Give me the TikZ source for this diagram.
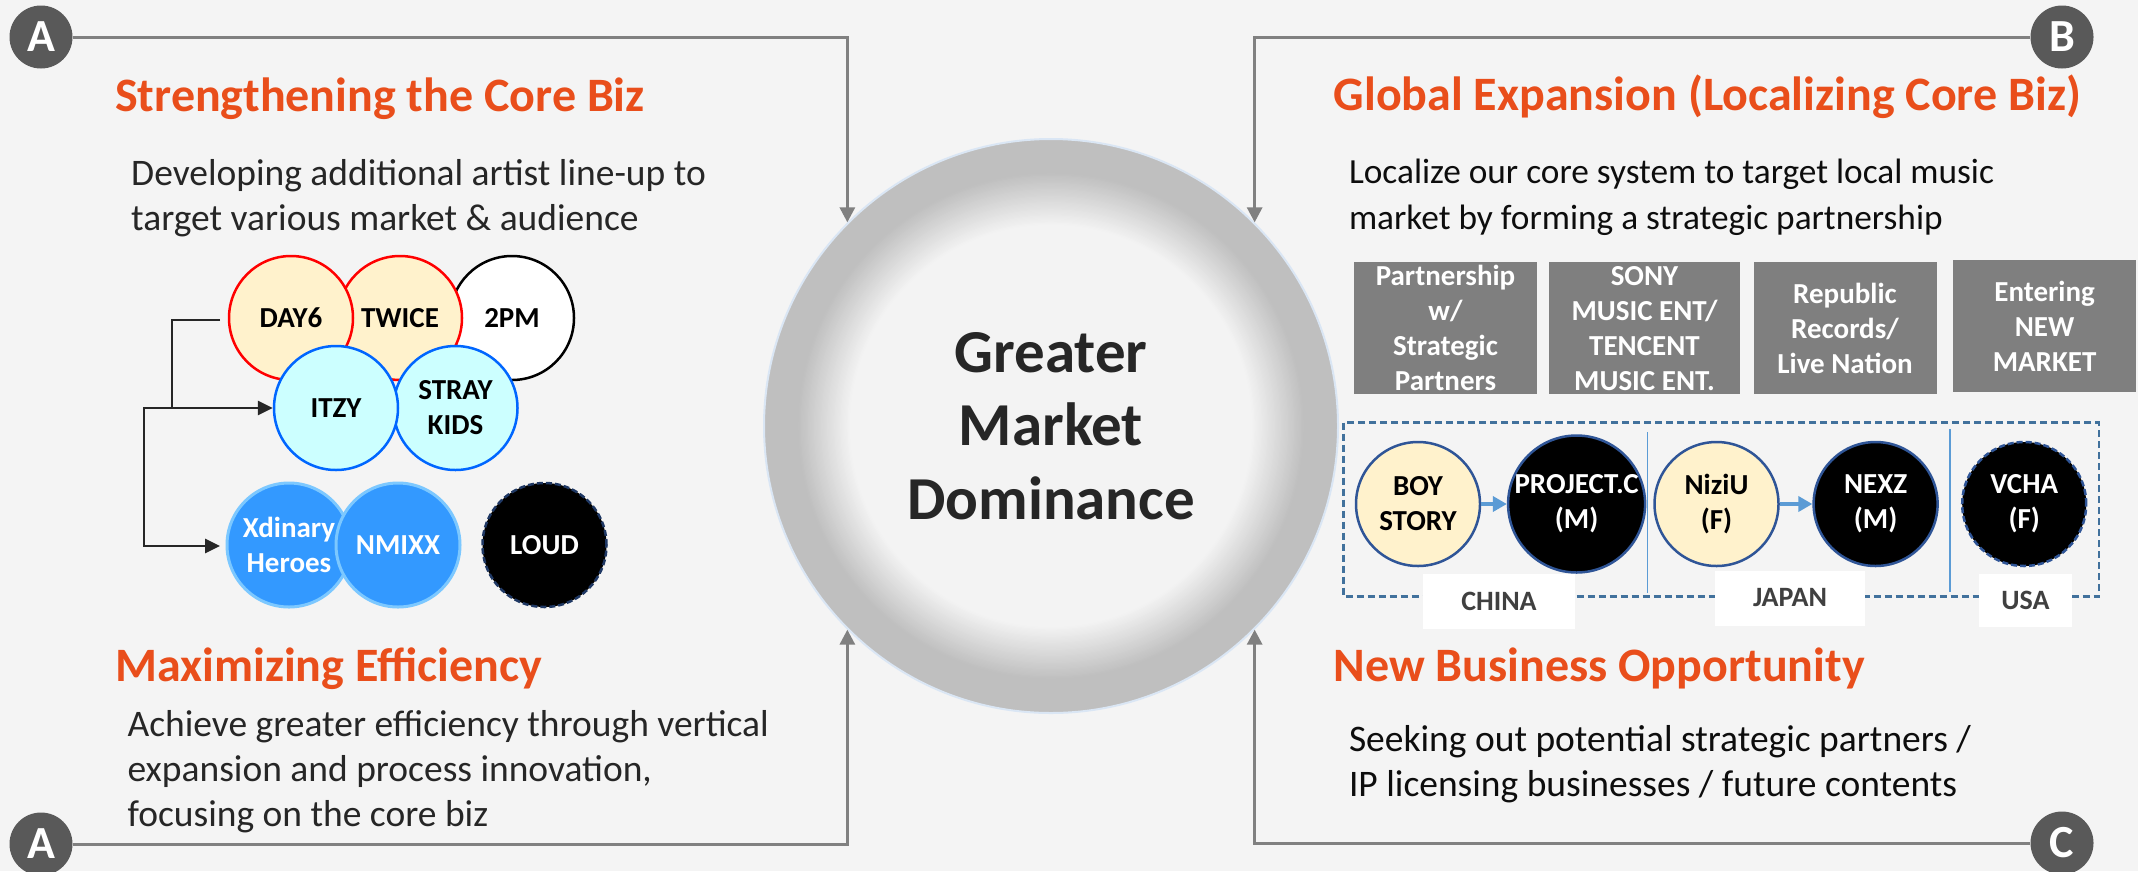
\documentclass[tikz,border=0pt]{standalone}
\usepackage{fontspec}
\setmainfont{Carlito}
\usetikzlibrary{arrows.meta,shapes.geometric}

\definecolor{cBg}{HTML}{F4F4F4}
\definecolor{cOrange}{HTML}{E94E1B}
\definecolor{cBody}{HTML}{262626}
\definecolor{cBodyR}{HTML}{0D0D0D}
\definecolor{cBadge}{HTML}{595959}
\definecolor{cFeed}{HTML}{808080}
\definecolor{cIn}{HTML}{F3F3F3}
\definecolor{cRing}{HTML}{BFBFBF}
\definecolor{cCoreBorder}{HTML}{DAE6F4}
\definecolor{cCream}{HTML}{FFF2CC}
\definecolor{cCyan}{HTML}{CCFFFF}
\definecolor{cBlueBorder}{HTML}{0066FF}
\definecolor{cMid}{HTML}{3399FF}
\definecolor{cMidBorder}{HTML}{7CC8FF}
\definecolor{cNavy}{HTML}{1F3864}
\definecolor{cDeep}{HTML}{2F5597}
\definecolor{cSky}{HTML}{5B9BD5}
\definecolor{cDash}{HTML}{41719C}
\definecolor{cBox}{HTML}{7F7F7F}
\definecolor{cLabel}{HTML}{404040}
\definecolor{cTree}{HTML}{262626}

\newcommand{\fsz}[2]{\fontsize{#1}{#2}\selectfont}

\begin{document}
\begin{tikzpicture}[x=1pt,y=-1pt,
  badge/.style={circle, fill=cBadge, minimum size=63pt, inner sep=0pt, text=white, font=\fsz{46}{50}\bfseries},
  feed/.style={draw=cFeed, line width=3pt, -{Triangle[length=15pt,width=15pt]}},
  ttl/.style={anchor=base west, inner sep=0pt, text=cOrange, font=\fsz{48}{56}\bfseries},
  bodyL/.style={anchor=base west, inner sep=0pt, text=cBody, font=\fsz{37.5}{45}},
  bodyR/.style={anchor=base west, inner sep=0pt, text=cBodyR, font=\fsz{37.5}{45}},
  bodyRs/.style={anchor=base west, inner sep=0pt, text=cBodyR, font=\fsz{35.3}{45}},
  artist/.style={circle, minimum size=124pt, inner sep=0pt, align=center, font=\fsz{29}{35}\bfseries, line width=2.5pt},
  creamR/.style={artist, fill=cCream, draw=red},
  cyanB/.style={artist, fill=cCyan, draw=cBlueBorder},
  midB/.style={artist, fill=cMid, draw=cMidBorder, line width=3pt, text=white},
  darkD/.style={artist, fill=black, draw=cNavy, dashed, dash pattern=on 6pt off 3pt, text=white},
  loc/.style={artist, draw=cDeep},
  treeline/.style={draw=cTree, line width=2.7pt},
  graybox/.style={rectangle, fill=cBox, minimum height=132pt, inner sep=0pt, align=center, text=white, font=\fsz{29}{35}\bfseries},
  lab/.style={rectangle, fill=white, inner sep=0pt, text=cLabel, font=\fsz{28}{34}\bfseries},
  skyarrow/.style={draw=cSky, line width=4pt, -{Triangle[length=14pt,width=15pt]}}
]
\useasboundingbox (0,0) rectangle (2138,871);
\fill[cBg] (0,0) rectangle (2138,871);

% central circle: ring with soft inner gradient
\coordinate (cc) at (1051,426);
\fill[cRing] (cc) circle[radius=287pt];
\foreach \i in {0,...,44} {
  \pgfmathsetmacro{\rr}{254-\i*1.2}
  \pgfmathsetmacro{\pc}{100-\i*100/44}
  \fill[cRing!\pc!cIn] (cc) circle[radius=\rr pt];
}
\node[circle, minimum size=574pt, inner sep=0pt, draw=cCoreBorder, line width=2pt,
      align=center, text=cBody, font=\fsz{61}{73.5}\bfseries] (core) at (cc) {Greater\\Market\\Dominance};

% badges
\node[badge] (bA1) at (41,37) {A};
\node[badge] (bA2) at (41,844) {A};
\node[badge] (bB) at (2062,37) {B};
\node[badge] (bC) at (2062,843) {C};

% feedback connectors
\draw[feed] (bA1) -| (core.135);
\draw[feed] (bA2) -| (core.225);
\draw[feed] (bB) -| (core.45);
\draw[feed] (bC) -| (core.315);

% left titles and texts
\node[ttl] (t1) at (115,111.7) {Strengthening the Core Biz};
\node[bodyL] (t1a) at (131,185) {Developing additional artist line-up to};
\node[bodyL] (t1b) at (131,230) {target various market \& audience};

\node[ttl] (t2) at (115,681.7) {Maximizing Efficiency};
\node[bodyL] (t2a) at (127.4,736) {Achieve greater efficiency through vertical};
\node[bodyL] (t2b) at (127.4,781.7) {expansion and process innovation,};
\node[bodyL] (t2c) at (127.4,826.7) {focusing on the core biz};

% right titles and texts
\node[ttl] (t3) at (1333.4,110) {Global Expansion (Localizing Core Biz)};
\node[bodyRs] (t3a) at (1348.8,183.3) {Localize our core system to target local music};
\node[bodyRs] (t3b) at (1348.8,229.3) {market by forming a strategic partnership};

\node[ttl] (t4) at (1333.4,681.7) {New Business Opportunity};
\node[bodyR] (t4a) at (1348.8,751.7) {Seeking out potential strategic partners /};
\node[bodyR] (t4b) at (1348.8,796.7) {IP licensing businesses / future contents};

% artist circles (left)
\node[artist, fill=white, draw=black] (pm2) at (512,318) {2PM};
\node[creamR] (twice) at (400,318) {TWICE};
\node[creamR] (day6) at (291,318) {DAY6};
\node[cyanB] (stray) at (455.5,408) {STRAY\\KIDS};
\node[cyanB] (itzy) at (336,408) {ITZY};
\node[midB] (xdin) at (289,545) {Xdinary\\Heroes};
\node[midB] (nmixx) at (398,545) {NMIXX};
\node[darkD] (loud) at (544.5,545) {LOUD};

% tree connectors
\coordinate (k0) at (220,320);
\coordinate (k1) at (172,408);
\coordinate (root) at (144,408);
\coordinate (k2) at (220,546);
\draw[treeline] (k0) -| (k1);
\draw[treeline, {Triangle[length=15pt,width=14pt]}-{Triangle[length=15pt,width=14pt]}] (itzy.west) -- (root) |- (k2);

% partner boxes
\node[graybox, minimum width=183pt] (p1) at (1445.5,328.3) {Partnership\\w/\\Strategic\\Partners};
\node[graybox, minimum width=191pt] (p2) at (1644.5,328.3) {SONY\\MUSIC ENT/\\TENCENT\\MUSIC ENT.};
\node[graybox, minimum width=183pt] (p3) at (1845,328.3) {Republic\\Records/\\Live Nation};
\node[graybox, minimum width=183pt] (p4) at (2044.6,326.2) {Entering\\NEW\\MARKET};

% localization frame
\draw[cDash, line width=2.5pt, dash pattern=on 7pt off 4pt] (1343.5,422.7) rectangle (2098.8,596.7);
\draw[cSky, line width=1.5pt] (1647.6,432) -- (1647.6,593);
\draw[cSky, line width=1.5pt] (1950.2,429) -- (1950.2,592);

\node[loc, fill=cCream] (boy) at (1418,504) {BOY\\STORY};
\node[loc, fill=black, text=white] (projc) at (1576.6,504) {PROJECT.C\\(M)};
\node[loc, fill=cCream] (niziu) at (1716.5,504) {NiziU\\(F)};
\node[loc, fill=black, text=white] (nexz) at (1875.6,504) {NEXZ\\(M)};
\node[loc, fill=black, text=white, dashed, dash pattern=on 6pt off 3pt] (vcha) at (2024.2,504) {VCHA\\(F)};
\draw[skyarrow] (boy) -- (projc);
\draw[skyarrow] (niziu) -- (nexz);

\node[lab, minimum width=152pt, minimum height=55pt] (lchina) at (1499,601.5) {CHINA};
\node[lab, minimum width=150pt, minimum height=55pt] (ljapan) at (1790,598) {JAPAN};
\node[lab, minimum width=93pt, minimum height=53pt] (lusa) at (2025.5,600.6) {USA};
\end{tikzpicture}
\end{document}
